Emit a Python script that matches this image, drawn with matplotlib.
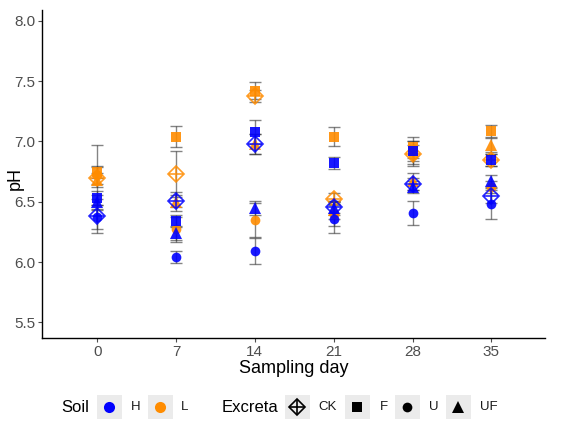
import numpy as np
import matplotlib.pyplot as plt
from matplotlib.patches import Rectangle

plt.rcParams['font.family'] = ['Liberation Sans', 'DejaVu Sans']

days = ['0', '7', '14', '21', '28', '35']
excreta = ['CK', 'F', 'U', 'UF']

# mean pH per soil / excreta, one value per sampling day
H_CK = [6.38, 6.51, 6.98, 6.46, 6.65, 6.55]
H_F = [6.53, 6.34, 7.08, 6.82, 6.92, 6.85]
H_U = [6.37, 6.04, 6.09, 6.36, 6.41, 6.48]
H_UF = [6.50, 6.24, 6.45, 6.45, 6.62, 6.67]
L_CK = [6.70, 6.73, 7.38, 6.52, 6.90, 6.85]
L_F = [6.75, 7.04, 7.42, 7.04, 6.95, 7.09]
L_U = [6.72, 6.27, 6.35, 6.40, 6.89, 6.62]
L_UF = [6.68, 6.50, 6.98, 6.43, 6.67, 6.97]

# standard deviations
H_CK_sd = [0.14, 0.05, 0.08, 0.05, 0.05, 0.06]
H_F_sd = [0.06, 0.05, 0.10, 0.05, 0.08, 0.05]
H_U_sd = [0.10, 0.05, 0.11, 0.12, 0.10, 0.12]
H_UF_sd = [0.06, 0.06, 0.06, 0.06, 0.05, 0.05]
L_CK_sd = [0.27, 0.19, 0.05, 0.05, 0.10, 0.05]
L_F_sd = [0.05, 0.09, 0.07, 0.08, 0.09, 0.05]
L_U_sd = [0.07, 0.10, 0.14, 0.10, 0.08, 0.05]
L_UF_sd = [0.06, 0.08, 0.08, 0.07, 0.07, 0.06]

data = {
    ('H', 'CK'): (H_CK, H_CK_sd), ('H', 'F'): (H_F, H_F_sd),
    ('H', 'U'): (H_U, H_U_sd), ('H', 'UF'): (H_UF, H_UF_sd),
    ('L', 'CK'): (L_CK, L_CK_sd), ('L', 'F'): (L_F, L_F_sd),
    ('L', 'U'): (L_U, L_U_sd), ('L', 'UF'): (L_UF, L_UF_sd),
}

colors = {'H': '#0000FF', 'L': '#FF8C00'}
markers = {'CK': 'D', 'F': 's', 'U': 'o', 'UF': '^'}
msizes = {'CK': 8.5, 'F': 7.0, 'U': 7.0, 'UF': 8.0}

W, Hh = 564, 428
fig = plt.figure(figsize=(5.64, 4.28), dpi=100)
ax = fig.add_axes([42 / W, 1 - 338 / Hh, (545 - 42) / W, (338 - 10) / Hh])
x = np.arange(len(days))

# errorbars first
for (soil, ex), (m, sd) in data.items():
    ax.errorbar(x, m, yerr=sd, fmt='none', ecolor='#333333', alpha=0.6,
                elinewidth=1, capsize=4, capthick=1, zorder=2)

for soil in ['L', 'H']:
    for ex in excreta:
        m, sd = data[(soil, ex)]
        c = colors[soil]
        if ex == 'CK':
            ax.plot(x, m, linestyle='none', marker='D', markersize=msizes[ex],
                    markerfacecolor='none', markeredgecolor=c, markeredgewidth=1.2,
                    alpha=0.85, zorder=3)
            ax.plot(x, m, linestyle='none', marker='+', markersize=msizes[ex] + 2,
                    color=c, markeredgewidth=1.2, alpha=0.85, zorder=3)
        else:
            ax.plot(x, m, linestyle='none', marker=markers[ex], markersize=msizes[ex],
                    color=c, markeredgewidth=0, alpha=0.9, zorder=3)

ax.set_xlim(-0.7, 5.68)
ax.set_ylim(5.37, 8.09)
ax.set_xticks(x)
ax.set_xticklabels(days)
ax.set_yticks([5.5, 6.0, 6.5, 7.0, 7.5, 8.0])
ax.set_yticklabels(['5.5', '6.0', '6.5', '7.0', '7.5', '8.0'])
ax.tick_params(labelsize=11, colors='#4d4d4d', length=3, pad=2)
for lab in ax.get_xticklabels() + ax.get_yticklabels():
    lab.set_color('#4d4d4d')
ax.spines['top'].set_visible(False)
ax.spines['right'].set_visible(False)
ax.spines['left'].set_linewidth(1.0)
ax.spines['bottom'].set_linewidth(1.0)
ax.set_xlabel('Sampling day', fontsize=13, labelpad=1)
fig.text(15 / W, 1 - 178 / Hh, 'pH', fontsize=13, rotation=90, va='center', ha='center')

# legend at the bottom, drawn by hand in pixel coordinates
ly = 428 - 407

fig.text(61 / W, ly / Hh, 'Soil', fontsize=12, va='center', ha='left')
fig.text(222 / W, ly / Hh, 'Excreta', fontsize=12, va='center', ha='left')

legend_items = [
    (109, 131, 'H', 'o', colors['H'], 8),
    (160, 181, 'L', 'o', colors['L'], 8),
    (297, 318, 'CK', 'CK', 'black', 8.5),
    (357, 380, 'F', 's', 'black', 7),
    (407, 429, 'U', 'o', 'black', 7),
    (458, 480, 'UF', '^', 'black', 9),
]
for cx, tx, label, mk, c, ms in legend_items:
    fig.patches.append(Rectangle(((cx - 12.5) / W, (ly - 12) / Hh), 25 / W, 24 / Hh,
                                 transform=fig.transFigure, facecolor='#ebebeb',
                                 edgecolor='none', zorder=1))
    if mk == 'CK':
        fig.lines.append(plt.Line2D([cx / W], [ly / Hh], marker='D', markersize=ms,
                                    markerfacecolor='none', markeredgecolor=c,
                                    markeredgewidth=1.2, transform=fig.transFigure, zorder=2))
        fig.lines.append(plt.Line2D([cx / W], [ly / Hh], marker='+', markersize=ms + 2,
                                    color=c, markeredgewidth=1.2,
                                    transform=fig.transFigure, zorder=2))
    else:
        fig.lines.append(plt.Line2D([cx / W], [ly / Hh], marker=mk, markersize=ms,
                                    color=c, markeredgewidth=0,
                                    transform=fig.transFigure, zorder=2))
    fig.text(tx / W, ly / Hh, label, fontsize=9.5, va='center', ha='left', color='#1a1a1a')

fig.savefig('out.png', dpi=100)
